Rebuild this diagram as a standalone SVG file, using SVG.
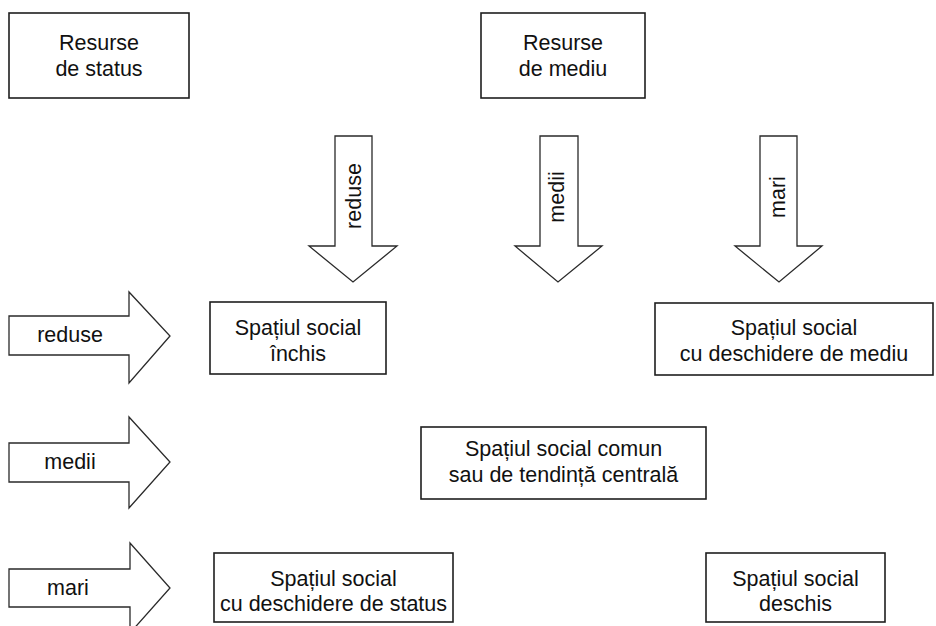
<svg xmlns="http://www.w3.org/2000/svg" width="936" height="626" viewBox="0 0 936 626">
<style>
.box{fill:#fff;stroke:#1e1e1e;stroke-width:1.6}
.arr{fill:#fff;stroke:#2a2a2a;stroke-width:1.3;stroke-linejoin:miter}
text{font-family:"Liberation Sans",Arial,sans-serif;font-size:21.5px;fill:#111;text-anchor:middle}
</style>
<rect width="936" height="626" fill="#fff"/>
<g id="resurse-status"><rect class="box" x="9" y="13" width="180" height="85"/><text x="99" y="50">Resurse</text><text x="99" y="76">de status</text></g>
<g id="resurse-mediu"><rect class="box" x="481" y="13" width="164" height="85"/><text x="563" y="50">Resurse</text><text x="563" y="76">de mediu</text></g>
<g id="spatiu-inchis"><rect class="box" x="210" y="302" width="176" height="72"/><text x="298" y="335">Spațiul social</text><text x="298" y="361">închis</text></g>
<g id="spatiu-deschidere-mediu"><rect class="box" x="655" y="303" width="278" height="72"/><text x="794" y="335">Spațiul social</text><text x="794" y="361">cu deschidere de mediu</text></g>
<g id="spatiu-comun"><rect class="box" x="421" y="427" width="285" height="72"/><text x="563.5" y="456">Spațiul social comun</text><text x="563.5" y="482">sau de tendință centrală</text></g>
<g id="spatiu-deschidere-status"><rect class="box" x="214" y="553" width="239" height="69"/><text x="333.5" y="586">Spațiul social</text><text x="333.5" y="611">cu deschidere de status</text></g>
<g id="spatiu-deschis"><rect class="box" x="706" y="553" width="179" height="69"/><text x="795.5" y="586">Spațiul social</text><text x="795.5" y="611">deschis</text></g>
<g id="connectors">
<g id="arrow-mediu-reduse"><polygon class="arr" points="335,136 372,136 372,246 397,246 353,282 309,246 335,246"/><text transform="translate(361,196) rotate(-90)">reduse</text></g>
<g id="arrow-mediu-medii"><polygon class="arr" points="540,136 578,136 578,246 602,246 558,282 515,246 540,246"/><text transform="translate(564,197) rotate(-90)">medii</text></g>
<g id="arrow-mediu-mari"><polygon class="arr" points="760,136 797,136 797,246 822,246 779,282 735,246 760,246"/><text transform="translate(785,197) rotate(-90)">mari</text></g>
<g id="arrow-status-reduse"><polygon class="arr" points="9,316 129,316 129,292 170,336 129,383 129,355 9,355"/><text x="70" y="342">reduse</text></g>
<g id="arrow-status-medii"><polygon class="arr" points="9,443 129,443 129,417 170,462 129,508 129,482 9,482"/><text x="70" y="469">medii</text></g>
<g id="arrow-status-mari"><polygon class="arr" points="9,569 130,569 130,543 170,588 130,633 130,607 9,607"/><text x="68" y="595">mari</text></g>
</g>
</svg>
